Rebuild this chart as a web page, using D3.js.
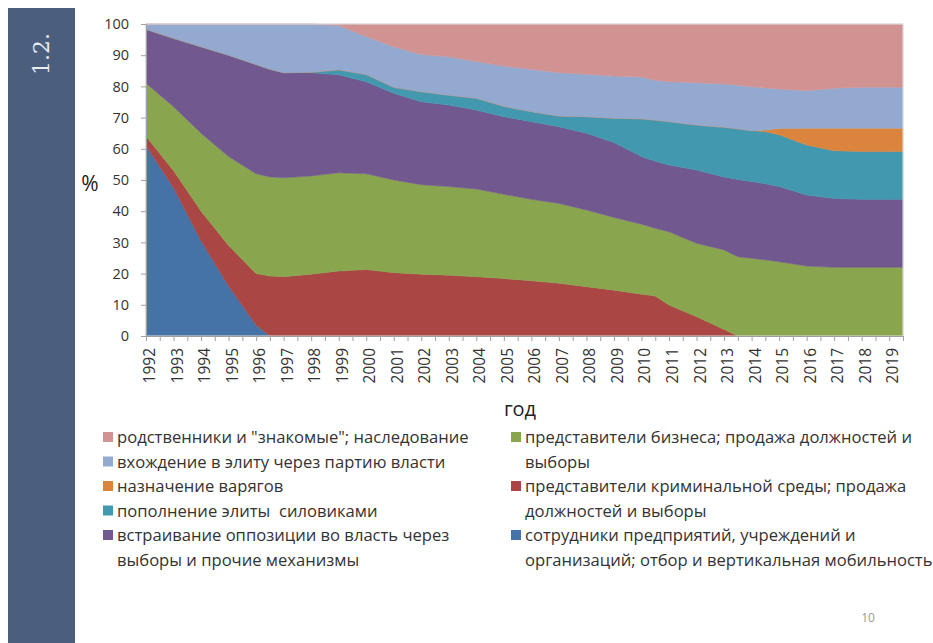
<!DOCTYPE html>
<html>
<head>
<meta charset="utf-8">
<title></title>
<style type="text/css">
    body{ padding:0; margin:0; overflow:hidden; background:#fff; }
    svg text{ font-family: "Open Sans", "Noto Sans", sans-serif; }
</style>
</head>
<body>
<div id="chart"></div>
<script src="https://cdnjs.cloudflare.com/ajax/libs/d3/7.8.5/d3.min.js"></script>
<script type="text/javascript">

// years (half-year points where the picture has a kink)
var years = [1992, 1993, 1994, 1995, 1996, 1996.5, 1997, 1998, 1999, 2000, 2001, 2002, 2003, 2004,
             2005, 2006, 2007, 2008, 2009, 2010, 2010.5, 2011, 2012, 2013, 2013.5, 2014, 2014.5,
             2015, 2016, 2017, 2018, 2019, 2019.5];

// series, bottom to top, in %
var sotrudniki = [61, 47.5, 30.5, 16, 3.5, 0, 0, 0, 0, 0, 0, 0, 0, 0,
                  0, 0, 0, 0, 0, 0, 0, 0, 0, 0, 0, 0, 0,
                  0, 0, 0, 0, 0, 0];
var kriminal   = [3, 5.5, 9.5, 13, 16.5, 19.2, 19, 19.8, 20.8, 21.3, 20.3, 19.8, 19.5, 19,
                  18.4, 17.7, 16.9, 15.8, 14.7, 13.4, 12.8, 9.9, 6.2, 2.1, 0, 0, 0,
                  0, 0, 0, 0, 0, 0];
var biznes     = [17, 20.5, 25, 28.5, 32, 31.8, 31.7, 31.5, 31.5, 30.7, 29.7, 28.7, 28.4, 28.1,
                  27, 26.1, 25.6, 24.6, 23.3, 22.4, 21.7, 23.5, 23.5, 25.5, 25.4, 24.9, 24.4,
                  23.8, 22.4, 22, 22, 22, 22];
var oppoziciya = [17.3, 21.9, 27.7, 32.5, 35, 34.5, 33.7, 33.1, 31.4, 29.5, 27.8, 26.6, 26.1, 25.3,
                  24.9, 24.9, 24.6, 24.6, 24, 21.7, 21.5, 21.4, 23.5, 23.4, 24.8, 24.6, 24.4,
                  24.1, 22.8, 22.1, 21.8, 21.8, 21.8];
var siloviki   = [0, 0, 0, 0, 0, 0, 0, 0.1, 1.6, 2.3, 1.9, 3.2, 3.2, 3.8,
                  3.3, 3.2, 3.4, 5.3, 7.8, 12.1, 13.2, 13.9, 14.4, 15.9, 16.2, 16.3, 16.7,
                  16.6, 16, 15.3, 15.3, 15.3, 15.3];
var varyagi    = [0, 0, 0, 0, 0, 0, 0, 0, 0, 0, 0, 0, 0, 0,
                  0, 0, 0, 0, 0, 0, 0, 0, 0, 0, 0, 0, 0.5,
                  2, 5.4, 7.2, 7.5, 7.5, 7.5];
var partiya    = [1.7, 4.6, 7.3, 10, 13, 14.5, 15.6, 15.5, 14.2, 12.2, 13, 11.9, 12.3, 11.8,
                  12.9, 13.6, 13.9, 13.6, 13.5, 13.4, 12.8, 12.8, 13.6, 13.9, 14, 14.1, 13.5,
                  12.7, 12, 12.8, 13.1, 13.1, 13.1];
var rodstvenniki = [0, 0, 0, 0, 0, 0, 0, 0, 0.5, 4, 7.3, 9.8, 10.5, 12,
                  13.5, 14.5, 15.6, 16.1, 16.7, 17, 18, 18.5, 18.8, 19.2, 19.6, 20.1, 20.5,
                  20.8, 21.4, 20.6, 20.3, 20.3, 20.3];

var yearLabels = d3.range(1992, 2020);
var yTicks = d3.range(0, 101, 10);

var keys = ['sotrudniki', 'kriminal', 'biznes', 'oppoziciya', 'siloviki', 'varyagi', 'partiya', 'rodstvenniki'];
var colors = {
    sotrudniki: '#4572A7', kriminal: '#AA4643', biznes: '#89A54E', oppoziciya: '#71588F',
    siloviki: '#4198AF', varyagi: '#DB843D', partiya: '#93A9CF', rodstvenniki: '#D19392'
};
var seriesValues = {sotrudniki: sotrudniki, kriminal: kriminal, biznes: biznes, oppoziciya: oppoziciya,
    siloviki: siloviki, varyagi: varyagi, partiya: partiya, rodstvenniki: rodstvenniki};

// legend: two columns, [series, lines]
var legendLeft = [
    ['rodstvenniki', ['родственники и "знакомые"; наследование']],
    ['partiya', ['вхождение в элиту через партию власти']],
    ['varyagi', ['назначение варягов']],
    ['siloviki', ['пополнение элиты  силовиками']],
    ['oppoziciya', ['встраивание оппозиции во власть через', 'выборы и прочие механизмы']]
];
var legendRight = [
    ['biznes', ['представители бизнеса; продажа должностей и', 'выборы']],
    ['kriminal', ['представители криминальной среды; продажа', 'должностей и выборы']],
    ['sotrudniki', ['сотрудники предприятий, учреждений и', 'организаций; отбор и вертикальная мобильность']]
];

var width = 933, height = 643;
var svg = d3.select('#chart').append('svg').attr('width', width).attr('height', height);

// side bar
svg.append('rect').attr('x', 8).attr('y', 8).attr('width', 67).attr('height', height - 8).style('fill', '#4B5E7D');
svg.append('text')
    .attr('transform', 'translate(49,54) rotate(-90)')
    .attr('text-anchor', 'middle')
    .style('font-family', '"DejaVu Serif", serif')
    .style('font-size', '22px')
    .style('fill', '#E8ECF2')
    .text('1.2.');

var plotLeft = 146, plotRight = 903, plotTop = 24, plotBottom = 336;
var x = d3.scaleLinear().domain([1992, 2019.5]).range([plotLeft, plotRight]);
var y = d3.scaleLinear().domain([0, 100]).range([plotBottom, plotTop]);

var table = years.map(function(yr, i){
    var row = {year: yr};
    keys.forEach(function(k){ row[k] = seriesValues[k][i]; });
    return row;
});
var stacked = d3.stack().keys(keys)(table);

var area = d3.area()
    .x(function(d){ return x(d.data.year); })
    .y0(function(d){ return y(d[0]); })
    .y1(function(d){ return y(d[1]); });

svg.append('g').selectAll('path')
    .data(stacked)
    .enter()
    .append('path')
    .attr('d', area)
    .style('fill', function(d){ return colors[d.key]; })
    .style('stroke', function(d){ return colors[d.key]; })
    .style('stroke-width', 0.5);

// light plot frame
svg.append('rect').attr('x', plotLeft).attr('y', plotTop).attr('width', plotRight - plotLeft)
    .attr('height', plotBottom - plotTop).style('fill', 'none').style('stroke', '#e2e2e2');

// y axis
var yAxis = svg.append('g').attr('transform', 'translate(' + plotLeft + ',0)')
    .call(d3.axisLeft(y).tickValues(yTicks).tickSize(5).tickPadding(12));
yAxis.select('.domain').style('stroke', '#a0a0a0');
yAxis.selectAll('.tick line').style('stroke', '#a0a0a0');
yAxis.selectAll('.tick text').style('font-size', '14.5px').style('fill', '#333')
    .style('font-family', '"Open Sans", sans-serif');

// x axis: ticks every half year, labels every year
var xAxis = svg.append('g').attr('transform', 'translate(0,' + plotBottom + ')')
    .call(d3.axisBottom(x).tickValues(d3.range(1992, 2020, 0.5)).tickSize(5).tickFormat(''));
xAxis.select('.domain').style('stroke', '#a0a0a0');
xAxis.selectAll('.tick line').style('stroke', '#a0a0a0');

svg.append('g').selectAll('text')
    .data(yearLabels)
    .enter()
    .append('text')
    .attr('transform', function(d){ return 'translate(' + (x(d) + 9) + ',' + (plotBottom + 12) + ') rotate(-90)'; })
    .attr('text-anchor', 'end')
    .style('font-size', '15.5px')
    .style('fill', '#333')
    .text(function(d){ return d; });

svg.append('text').attr('x', 90).attr('y', 191).attr('text-anchor', 'middle')
    .style('font-size', '21px').style('fill', '#222').text('%');
svg.append('text').attr('x', 520).attr('y', 416).attr('text-anchor', 'middle')
    .style('font-size', '20px').style('fill', '#222').text('год');

// legend
function drawLegend(items, x0){
    var row = 0;
    items.forEach(function(it){
        var yy = 437 + row * 24.5;
        svg.append('rect').attr('x', x0).attr('y', yy - 5).attr('width', 10).attr('height', 10)
            .style('fill', colors[it[0]]);
        it[1].forEach(function(line, j){
            svg.append('text').attr('x', x0 + 14).attr('y', yy + 6 + j * 24.5)
                .style('font-size', '16.6px').style('fill', '#333')
                .style('white-space', 'pre')
                .text(line);
        });
        row += it[1].length;
    });
}
drawLegend(legendLeft, 103);
drawLegend(legendRight, 511);

svg.append('text').attr('x', 868).attr('y', 622).attr('text-anchor', 'middle')
    .style('font-size', '12px').style('fill', '#999').text('10');

</script>
</body>
</html>
